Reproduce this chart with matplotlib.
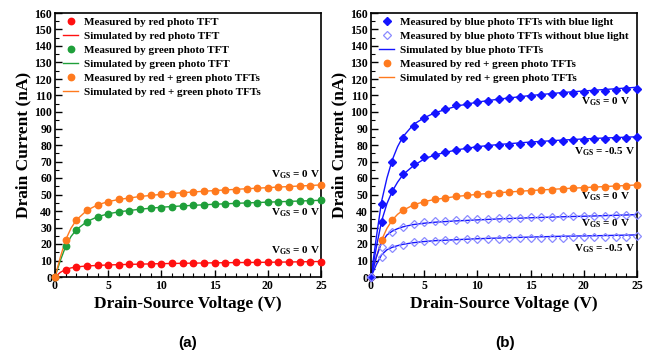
import matplotlib
matplotlib.use("Agg")
import matplotlib.pyplot as plt
from matplotlib.ticker import MultipleLocator

plt.rcParams['font.family'] = ['Liberation Serif', 'DejaVu Serif']
plt.rcParams['font.weight'] = 'bold'
plt.rcParams['mathtext.fontset'] = 'custom'
plt.rcParams['mathtext.rm'] = 'Liberation Serif:bold'
plt.rcParams['mathtext.bf'] = 'Liberation Serif:bold'
plt.rcParams['mathtext.it'] = 'Liberation Serif:bold'

# ---------------- data ----------------
vds = list(range(0, 26))

red_meas = [0, 4.5, 6.0, 6.5, 7.0, 7.2, 7.5, 7.7, 7.8, 8.0, 8.1, 8.2, 8.3, 8.4, 8.5,
            8.6, 8.7, 8.8, 8.8, 8.9, 9.0, 9.0, 9.1, 9.2, 9.2, 9.3]
green_meas = [0, 18.5, 28.5, 33.5, 36.5, 38.3, 39.5, 40.3, 41.0, 41.6, 42.1, 42.6, 43.0,
              43.4, 43.7, 44.0, 44.3, 44.6, 44.8, 45.0, 45.3, 45.5, 45.7, 45.9, 46.1, 46.4]
rg_meas = [0, 22.5, 34.5, 40.5, 43.8, 45.7, 47.0, 48.0, 48.8, 49.5, 50.1, 50.6, 51.1,
           51.5, 51.9, 52.3, 52.7, 53.0, 53.4, 53.7, 54.0, 54.3, 54.6, 54.9, 55.2, 55.6]

vsim_a = [0, 0.5, 1, 1.5, 2, 3, 4, 5, 6, 8, 10, 12, 15, 18, 21, 25]
red_sim = [0, 2.8, 4.6, 5.5, 6.1, 6.7, 7.0, 7.3, 7.5, 7.8, 8.1, 8.3, 8.6, 8.8, 9.0, 9.4]
green_sim = [0, 10, 18.5, 24.5, 28.6, 33.6, 36.5, 38.3, 39.5, 41.1, 42.3, 43.1, 44.1, 44.9, 45.6, 46.5]
rg_sim = [0, 12, 22.5, 29.5, 34.5, 40.4, 43.7, 45.7, 47.0, 48.8, 50.1, 51.1, 52.4, 53.5, 54.5, 55.8]

blue_on_0 = [0, 44, 69.5, 84, 91.5, 96.5, 99.5, 102, 104, 105, 106, 106.7, 107.7, 108.3,
             109, 109.8, 110.4, 110.8, 111.4, 111.8, 112.2, 112.6, 113, 113.6, 114, 114]
blue_on_m05 = [0, 33.5, 52, 62.3, 68.3, 72.5, 74, 75.5, 76.7, 78, 78.5, 79.3, 79.7, 80.3,
               80.8, 81.4, 81.8, 82.2, 82.6, 82.8, 83.2, 83.4, 83.8, 84, 84.2, 84.6]
blue_off_0 = [0, 18.4, 27, 30.4, 32.4, 33.4, 33.8, 34, 34.4, 35, 35.2, 35.4, 35.6, 35.8,
              36, 36.2, 36.4, 36.5, 36.7, 36.8, 37, 37.1, 37.2, 37.3, 37.4, 37.5]
blue_off_m05 = [0, 12, 17.6, 19.4, 21, 21.6, 22, 22.4, 22.6, 23, 23.1, 23.2, 23.3, 23.4,
                23.5, 23.6, 23.7, 23.8, 23.9, 24, 24.1, 24.2, 24.3, 24.4, 24.5, 24.6]

vsim_b = [0, 0.5, 1, 1.5, 2, 2.5, 3, 4, 5, 6, 8, 10, 12, 15, 18, 21, 25]
blue_sim_on_0 = [0, 24, 46, 60, 71, 79, 85, 92.5, 96.5, 99.5, 103.5, 106, 107.8, 110, 111.8, 113.2, 115]
blue_sim_on_m05 = [0, 18, 34, 44.5, 52, 57.5, 62, 67.5, 71.5, 74, 77, 79, 80.3, 81.8, 83, 84, 85]
blue_sim_off_0 = [0, 12, 21, 25.5, 27.8, 29.3, 30.4, 31.8, 32.6, 33.2, 34, 34.6, 35.2, 35.9, 36.5, 37, 37.8]
blue_sim_off_m05 = [0, 7.5, 13.5, 16.5, 18, 19, 19.8, 20.8, 21.5, 22, 22.6, 23.2, 23.6, 24.2, 24.7, 25.0, 25.5]
rg_sim_b = [0, 12, 22.5, 29.5, 34.5, 38, 40.4, 43.7, 45.7, 47.0, 48.8, 50.1, 51.1, 52.4, 53.5, 54.5, 55.8]

RED = '#ff1010'
GREEN = '#1f9f3a'
ORANGE = '#ff7a1e'
BLUE = '#1414ff'
LBLUE = '#8a8aff'

fig = plt.figure(figsize=(6.54, 3.57), dpi=100)
axa = fig.add_axes([55/654, 80/357, 266/654, 264/357])
axb = fig.add_axes([371/654, 80/357, 266/654, 264/357])

def style(ax):
    ax.set_xlim(0, 25)
    ax.set_ylim(0, 160)
    ax.xaxis.set_major_locator(MultipleLocator(5))
    ax.xaxis.set_minor_locator(MultipleLocator(1))
    ax.yaxis.set_major_locator(MultipleLocator(10))
    ax.yaxis.set_minor_locator(MultipleLocator(5))
    ax.tick_params(which='both', direction='in', top=False, right=False, labelsize=8.5, pad=2)
    ax.tick_params(which='major', length=5, width=1)
    ax.tick_params(which='minor', length=3, width=0.8)
    for lab in ax.get_xticklabels() + ax.get_yticklabels():
        lab.set_fontweight('bold')
    for s in ax.spines.values():
        s.set_linewidth(1.2)
    ax.set_xlabel('Drain-Source Voltage (V)', fontsize=12.5, fontweight='bold', labelpad=3)
    ax.set_ylabel('Drain Current (nA)', fontsize=12.5, fontweight='bold', labelpad=2)

ms = 4.6
# ---- (a)
axa.plot(vds, red_meas, 'o', color=RED, ms=ms, zorder=3, clip_on=False, label='Measured by red photo TFT')
axa.plot(vsim_a, red_sim, '-', color=RED, lw=1, label='Simulated by red photo TFT')
axa.plot(vds, green_meas, 'o', color=GREEN, ms=ms, zorder=3, clip_on=False, label='Measured by green photo TFT')
axa.plot(vsim_a, green_sim, '-', color=GREEN, lw=1, label='Simulated by green photo TFT')
axa.plot(vds, rg_meas, 'o', color=ORANGE, ms=ms, zorder=3, clip_on=False, label='Measured by red + green photo TFTs')
axa.plot(vsim_a, rg_sim, '-', color=ORANGE, lw=1, label='Simulated by red + green photo TFTs')
style(axa)
leg = axa.legend(loc='upper left', bbox_to_anchor=(0.0, 1.012), frameon=False, fontsize=8,
                 handlelength=1.4, handletextpad=0.5, labelspacing=0.38, borderaxespad=0.3)
for t in leg.get_texts():
    t.set_fontweight('bold')

lab0 = r'V$_{\rm GS}$ = 0 V'
labm = r'V$_{\rm GS}$ = -0.5 V'
kw = dict(fontsize=8, fontweight='bold', ha='right', va='center')
axa.text(24.9, 62, lab0, **kw)
axa.text(24.9, 39, lab0, **kw)
axa.text(24.9, 16, lab0, **kw)

# ---- (b)
axb.plot(vds, blue_on_0, 'D', color=BLUE, ms=3.6, zorder=3, clip_on=False,
         label='Measured by blue photo TFTs with blue light')
axb.plot(vds, blue_off_0, 'D', mfc='none', mec=LBLUE, mew=0.9, ms=4.2, zorder=3, clip_on=False,
         label='Measured by blue photo TFTs without blue light')
axb.plot(vsim_b, blue_sim_on_0, '-', color=BLUE, lw=1, label='Simulated by blue photo TFTs')
axb.plot(vds, rg_meas, 'o', color=ORANGE, ms=ms, zorder=3, clip_on=False,
         label='Measured by red + green photo TFTs')
axb.plot(vsim_b, rg_sim_b, '-', color=ORANGE, lw=1, label='Simulated by red + green photo TFTs')
axb.plot(vds, blue_on_m05, 'D', color=BLUE, ms=3.6, zorder=3, clip_on=False)
axb.plot(vds, blue_off_m05, 'D', mfc='none', mec=LBLUE, mew=0.9, ms=4.2, zorder=3, clip_on=False)
axb.plot(vsim_b, blue_sim_on_m05, '-', color=BLUE, lw=1)
axb.plot(vsim_b, blue_sim_off_0, '-', color=BLUE, lw=1)
axb.plot(vsim_b, blue_sim_off_m05, '-', color=BLUE, lw=1)
style(axb)
leg = axb.legend(loc='upper left', bbox_to_anchor=(0.0, 1.012), frameon=False, fontsize=8,
                 handlelength=1.4, handletextpad=0.5, labelspacing=0.38, borderaxespad=0.3)
for t in leg.get_texts():
    t.set_fontweight('bold')

axb.text(24.3, 106, lab0, **kw)
axb.text(24.8, 76, labm, **kw)
axb.text(24.3, 48.5, lab0, **kw)
axb.text(24.3, 32.5, lab0, **kw)
axb.text(24.8, 17, labm, **kw)

fig.text(188/654, 1 - 343/357, '(a)', family='Liberation Sans', fontweight='bold', fontsize=11,
         ha='center', va='center')
fig.text(505/654, 1 - 343/357, '(b)', family='Liberation Sans', fontweight='bold', fontsize=11,
         ha='center', va='center')

fig.savefig('out.png', dpi=100)
